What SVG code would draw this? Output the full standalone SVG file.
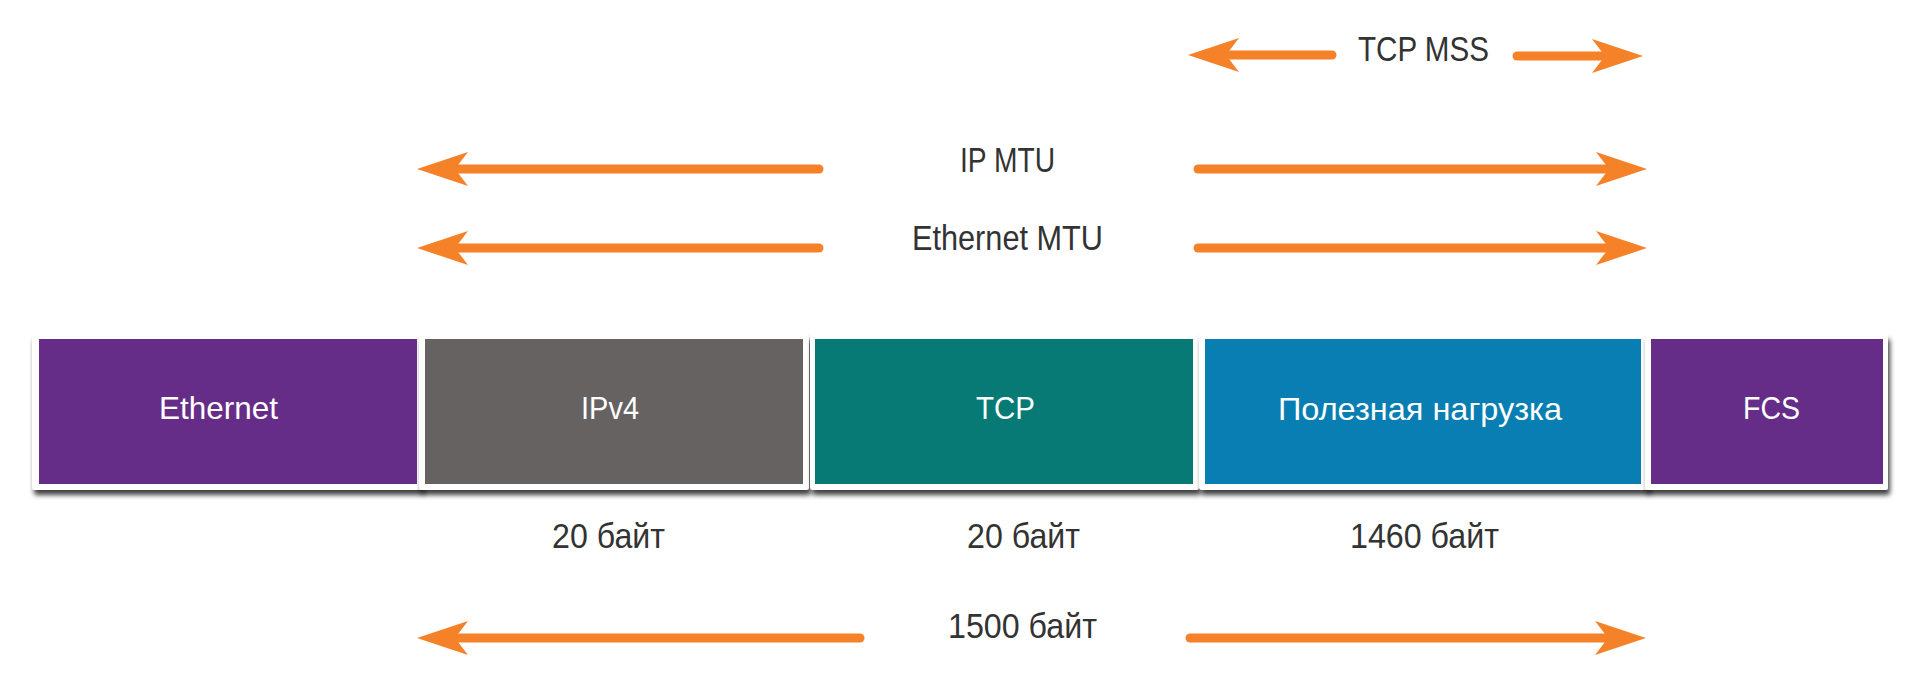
<svg xmlns="http://www.w3.org/2000/svg" width="1920" height="699" viewBox="0 0 1920 699">
<style>
.frame{fill:#ffffff;filter:url(#sh)}
.lbl{font-family:"Liberation Sans",Arial,sans-serif;font-size:32px;fill:#ffffff}
.txt{font-family:"Liberation Sans",Arial,sans-serif;font-size:35px;fill:#333333}
.arr{stroke:#f58229;stroke-width:9;stroke-linecap:round;fill:none;marker-end:url(#ah)}
</style>
<defs>
<filter id="sh" x="-5%" y="-20%" width="115%" height="150%">
<feDropShadow dx="2" dy="5" stdDeviation="2.5" flood-color="#000000" flood-opacity="0.75"/>
</filter>
<marker id="ah" markerUnits="userSpaceOnUse" orient="auto" overflow="visible" markerWidth="60" markerHeight="40">
<path d="M -15,-17 L 36,0 L -15,17 L -2,0 Z" fill="#f58229"/>
</marker>
</defs>
<rect width="1920" height="699" fill="#ffffff"/>

<g id="node-ethernet">
<rect class="frame" x="32" y="334" width="391" height="156" rx="3"/>
<rect x="39" y="339" width="378" height="145" fill="#652d88"/>
<text class="lbl" x="159" y="419" textLength="119" lengthAdjust="spacingAndGlyphs">Ethernet</text>
</g>
<g id="node-ipv4">
<rect class="frame" x="419" y="334" width="390" height="156" rx="3"/>
<rect x="425" y="339" width="378" height="145" fill="#666262"/>
<text class="lbl" x="581" y="419" textLength="58" lengthAdjust="spacingAndGlyphs">IPv4</text>
</g>
<g id="node-tcp">
<rect class="frame" x="810" y="334" width="389" height="156" rx="3"/>
<rect x="815" y="339" width="378" height="145" fill="#087a75"/>
<text class="lbl" x="976" y="419" textLength="59" lengthAdjust="spacingAndGlyphs">TCP</text>
</g>
<g id="node-payload">
<rect class="frame" x="1199" y="334" width="450" height="156" rx="3"/>
<rect x="1205" y="339" width="436" height="145" fill="#087eb2"/>
<text class="lbl" x="1278" y="420" textLength="284" lengthAdjust="spacingAndGlyphs">Полезная нагрузка</text>
</g>
<g id="node-fcs">
<rect class="frame" x="1645" y="334" width="243" height="156" rx="3"/>
<rect x="1651" y="339" width="232" height="145" fill="#652d88"/>
<text class="lbl" x="1743" y="419" textLength="57" lengthAdjust="spacingAndGlyphs">FCS</text>
</g>

<g id="connectors">
<line class="arr" x1="1332" y1="55" x2="1224" y2="55"/>
<line class="arr" x1="1517" y1="56" x2="1607" y2="56"/>
<line class="arr" x1="819" y1="169" x2="453" y2="169"/>
<line class="arr" x1="1198" y1="169" x2="1611" y2="169"/>
<line class="arr" x1="819" y1="248" x2="453" y2="248"/>
<line class="arr" x1="1198" y1="248" x2="1611" y2="248"/>
<line class="arr" x1="860" y1="638" x2="453" y2="638"/>
<line class="arr" x1="1190" y1="638" x2="1610" y2="638"/>
</g>

<g id="labels">
<text class="txt" x="1358" y="61" textLength="131" lengthAdjust="spacingAndGlyphs">TCP MSS</text>
<text class="txt" x="960" y="172" textLength="95" lengthAdjust="spacingAndGlyphs">IP MTU</text>
<text class="txt" x="912" y="250" textLength="191" lengthAdjust="spacingAndGlyphs">Ethernet MTU</text>
<text class="txt" x="552" y="548" textLength="113" lengthAdjust="spacingAndGlyphs">20 байт</text>
<text class="txt" x="967" y="548" textLength="113" lengthAdjust="spacingAndGlyphs">20 байт</text>
<text class="txt" x="1350" y="548" textLength="149" lengthAdjust="spacingAndGlyphs">1460 байт</text>
<text class="txt" x="948" y="638" textLength="149" lengthAdjust="spacingAndGlyphs">1500 байт</text>
</g>
</svg>
